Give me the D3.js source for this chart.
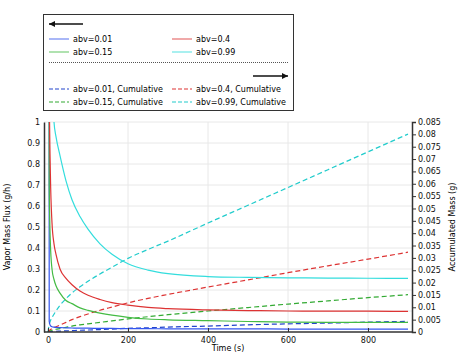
<!DOCTYPE html>
<html><head><meta charset="utf-8">
<script src="https://cdn.jsdelivr.net/npm/d3@7"></script>
<style>body{margin:0;background:#fff}svg{display:block}text{font-family:"DejaVu Sans",sans-serif}</style>
</head><body>
<script>
const time = [0,3,6,10,15,20,30,45,60,80,100,130,160,200,250,300,400,500,600,700,800,900];
const fluxNames = ["abv=0.01","abv=0.15","abv=0.4","abv=0.99"];
const flux001 = [30,0.05,0.03,0.025,0.023,0.022,0.021,0.02,0.019,0.018,0.018,0.017,0.017,0.016,0.016,0.015,0.015,0.015,0.014,0.014,0.014,0.014];
const flux015 = [30,0.7,0.42,0.30,0.25,0.22,0.185,0.15,0.135,0.115,0.103,0.09,0.08,0.07,0.062,0.058,0.054,0.05,0.047,0.046,0.046,0.046];
const flux04  = [30,1.2,0.75,0.52,0.42,0.37,0.30,0.255,0.225,0.195,0.175,0.155,0.14,0.128,0.117,0.111,0.105,0.102,0.100,0.099,0.099,0.098];
const flux099 = [30,8,3.5,1.4,1.0,0.93,0.84,0.72,0.63,0.55,0.49,0.42,0.37,0.325,0.295,0.278,0.264,0.26,0.258,0.257,0.256,0.255];
const cumNames = ["abv=0.01, Cumulative","abv=0.15, Cumulative","abv=0.4, Cumulative","abv=0.99, Cumulative"];
const cum001 = [0,0.0001,0.00015,0.0002,0.00025,0.0003,0.00035,0.00045,0.00055,0.0007,0.0008,0.001,0.0012,0.0015,0.0017,0.002,0.0024,0.0029,0.0033,0.0036,0.004,0.0043];
const cum015 = [0,0.0003,0.0005,0.0007,0.0009,0.0011,0.0014,0.0019,0.0024,0.0029,0.0033,0.0039,0.0045,0.0053,0.0062,0.007,0.0085,0.0099,0.0113,0.0126,0.0139,0.0151];
const cum04  = [0,0.0006,0.001,0.0014,0.0018,0.0021,0.0028,0.0039,0.005,0.0062,0.0073,0.0088,0.0101,0.0118,0.0136,0.0152,0.0182,0.0211,0.024,0.0268,0.0295,0.0323];
const cum099 = [0,0.003,0.0045,0.0058,0.0072,0.0085,0.0108,0.0135,0.0158,0.0183,0.0205,0.0235,0.0262,0.0298,0.0334,0.0368,0.0441,0.0513,0.0585,0.0657,0.0729,0.0801];
const xTicks = [0,200,400,600,800];
const yLeftTicks = [0,0.1,0.2,0.3,0.4,0.5,0.6,0.7,0.8,0.9,1];
const yRightTicks = d3.range(0,0.0851,0.005);
const colors = ["#3355ee","#44bb44","#dd3333","#33dddd"];
const cumColors = ["#2244cc","#33aa33","#dd3333","#22cccc"];

const W=467,H=357;
const L=44,R=412,T=122,B=332;
const svg=d3.select("body").append("svg").attr("width",W).attr("height",H);
const x=d3.scaleLinear().domain([-10,910]).range([L,R]);
const yL=d3.scaleLinear().domain([0,1]).range([B,T]);
const yR=d3.scaleLinear().domain([0,0.085]).range([B,T]);

svg.append("g").selectAll("line").data(yLeftTicks.slice(1)).join("line")
 .attr("x1",L).attr("x2",R).attr("y1",d=>yL(d)).attr("y2",d=>yL(d)).attr("stroke","#e8e8e8").attr("stroke-width",1);
svg.append("g").selectAll("line").data(xTicks.slice(1)).join("line")
 .attr("y1",T).attr("y2",B).attr("x1",d=>x(d)).attr("x2",d=>x(d)).attr("stroke","#e8e8e8").attr("stroke-width",1);

svg.append("defs").append("clipPath").attr("id","clip").append("rect").attr("x",L).attr("y",T).attr("width",R-L).attr("height",B-T);
const plot=svg.append("g").attr("clip-path","url(#clip)");

const lineL=d3.line().curve(d3.curveMonotoneX).x((d,i)=>x(time[i])).y(d=>yL(Math.min(d,50)));
const lineR=d3.line().curve(d3.curveMonotoneX).x((d,i)=>x(time[i])).y(d=>yR(d));
const fluxes=[flux001,flux015,flux04,flux099];
const cums=[cum001,cum015,cum04,cum099];
cums.forEach((s,k)=>plot.append("path").attr("d",lineR(s)).attr("fill","none").attr("stroke",cumColors[k]).attr("stroke-width",1.2).attr("stroke-dasharray","5,3"));
fluxes.forEach((s,k)=>plot.append("path").attr("d",lineL(s)).attr("fill","none").attr("stroke",colors[k]).attr("stroke-width",1.2));

const ax=svg.append("g").attr("transform",`translate(0,${B})`).call(d3.axisBottom(x).tickValues(xTicks).tickSize(-4).tickPadding(5));
const ayl=svg.append("g").attr("transform",`translate(${L},0)`).call(d3.axisLeft(yL).tickValues(yLeftTicks).tickFormat(d3.format("")).tickSize(0).tickPadding(4));
const ayr=svg.append("g").attr("transform",`translate(${R},0)`).call(d3.axisRight(yR).tickValues(yRightTicks).tickFormat(d=>d===0?"0":d3.format("")(+d.toFixed(3))).tickSize(4).tickPadding(2));
[ax,ayl,ayr].forEach(g=>{g.selectAll("path").attr("stroke","#333").attr("stroke-width",1.5);g.selectAll("line").attr("stroke","#333");g.selectAll("text").attr("font-size",8).attr("fill","#111").attr("font-family","DejaVu Sans");});
ax.selectAll(".domain").remove();
svg.append("line").attr("x1",L).attr("x2",R).attr("y1",B).attr("y2",B).attr("stroke","#333").attr("stroke-width",1.5);

svg.append("text").attr("x",228).attr("y",351).attr("text-anchor","middle").attr("font-size",8).text("Time (s)");
svg.append("text").attr("transform","translate(10,227) rotate(-90)").attr("text-anchor","middle").attr("font-size",8).text("Vapor Mass Flux (g/h)");
svg.append("text").attr("transform","translate(455,227) rotate(-90)").attr("text-anchor","middle").attr("font-size",8).text("Accumulated Mass (g)");

const lg=svg.append("g");
lg.append("rect").attr("x",43.5).attr("y",14.5).attr("width",250).attr("height",96).attr("fill","#fff").attr("stroke","#333").attr("stroke-width",1);
const arrow=(x1,x2,y)=>{lg.append("line").attr("x1",x1).attr("x2",x2).attr("y1",y).attr("y2",y).attr("stroke","#111").attr("stroke-width",1.5);
 const dir=Math.sign(x2-x1);lg.append("path").attr("d",`M${x2},${y}L${x2-dir*6},${y-3}L${x2-dir*6},${y+3}Z`).attr("fill","#111");};
arrow(83,49,24); arrow(253,288,76);
lg.append("line").attr("x1",49).attr("x2",288).attr("y1",62.5).attr("y2",62.5).attr("stroke","#555").attr("stroke-dasharray","1,1");
const pos=[[49,39],[49,52],[172,39],[172,52]];
fluxNames.forEach((n,k)=>{const [px,py]=pos[k];
 lg.append("line").attr("x1",px).attr("x2",px+20).attr("y1",py).attr("y2",py).attr("stroke",colors[k]).attr("stroke-width",1.2).attr("opacity",0.7);
 lg.append("text").attr("x",px+24).attr("y",py+3).attr("font-size",8).text(n);});
const pos2=[[49,89],[49,102],[172,89],[172,102]];
cumNames.forEach((n,k)=>{const [px,py]=pos2[k];
 lg.append("line").attr("x1",px).attr("x2",px+20).attr("y1",py).attr("y2",py).attr("stroke",cumColors[k]).attr("stroke-width",1.2).attr("stroke-dasharray","4,2");
 lg.append("text").attr("x",px+24).attr("y",py+3).attr("font-size",8).text(n);});
</script>
</body></html>
